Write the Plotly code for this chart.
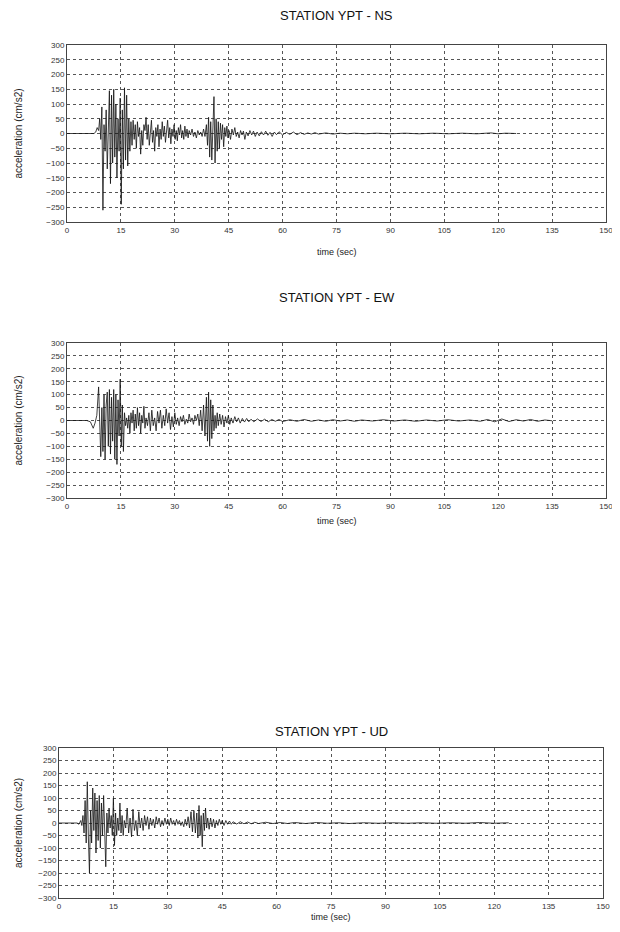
import plotly.graph_objects as go

# ---- data (time in s, acceleration in cm/s2) ----
ns_t = [0, 7.5, 8.0, 8.4, 8.8, 9.1, 9.4, 9.7, 10.0, 10.3, 10.6, 10.9, 11.2, 11.5, 11.8, 12.1, 12.4, 12.7,
        13.0, 13.3, 13.6, 13.9, 14.2, 14.5, 14.8, 15.1, 15.4, 15.7, 16.0, 16.3, 16.6, 16.9, 17.2, 17.5,
        17.8, 18.1, 18.4, 18.7, 19.0, 19.3, 19.6, 19.9, 20.2, 20.5, 20.8, 21.1, 21.4, 21.7, 22.0, 22.3,
        22.6, 22.9, 23.2, 23.5, 23.8, 24.1, 24.4, 24.7, 25.0, 25.3, 25.6, 25.9, 26.2, 26.5, 26.8, 27.1,
        27.4, 27.7, 28.0, 28.3, 28.6, 28.9, 29.2, 29.5, 29.8, 30.1, 30.4, 30.7, 31.0, 31.3, 31.6, 31.9,
        32.2, 32.5, 32.8, 33.1, 33.4, 33.7, 34.0, 34.4, 34.8, 35.2, 35.6, 36.0, 36.4, 36.8, 37.2, 37.6,
        38.0, 38.4, 38.8, 39.1, 39.4, 39.7, 40.0, 40.3, 40.6, 40.9, 41.2, 41.5, 41.8, 42.1, 42.4, 42.7,
        43.0, 43.3, 43.6, 43.9, 44.2, 44.5, 44.8, 45.1, 45.5, 45.9, 46.3, 46.7, 47.1, 47.5, 47.9, 48.3,
        48.7, 49.1, 49.5, 49.9, 50.4, 50.9, 51.4, 51.9, 52.4, 52.9, 53.5, 54.1, 54.7, 55.3, 55.9, 56.5,
        57.1, 57.7, 58.3, 59, 60, 61, 62, 63, 64, 65, 66, 67, 68, 69, 70, 72, 74, 76, 78, 80, 83, 86,
        90, 94, 98, 102, 106, 110, 114, 118, 120, 122, 125]
ns_a = [0, 0, 5, 20, 10, 50, -20, 90, -260, 30, -60, 80, -120, 60, 145, -170, 130, -100,
        150, -80, 100, -150, 50, -60, 120, -240, 80, -120, 155, -90, 130, -110, 50, -60,
        40, -40, 45, -20, 30, -50, 40, -10, 20, -70, 10, -40, 30, 10, 55, -20,
        30, -40, 20, 45, -30, 10, -60, 20, -10, 30, -45, 15, -20, 40, -10, 25,
        -30, 10, 45, -15, 20, -35, 15, -10, 30, -20, 10, -25, 20, -5, 30, -15,
        10, -20, 25, -10, 15, -15, 10, -5, 15, -10, 5, -15, 10, -5, 5, -10,
        15, -10, 30, -40, 55, -80, 40, -90, 60, 125, -100, 50, -60, 40, -50, 35,
        -20, 30, -45, 20, -10, 25, -15, 10, -20, 15, -5, 20, -10, 5, -15, 10,
        -5, 8, -20, 5, -8, 10, -5, 8, -10, 5, -8, 6, -5, 8, -6, 4,
        -10, 5, -4, 6, -5, 4, -3, 5, -4, 3, -3, 2, -2, 3, -2, 2, -2, 1, -1, 1, -1, 1,
        -1, 1, -1, 1, -1, 1, -1, 2, -1, 1, 0]

ew_t = [0, 5.5, 6.5, 7.3, 7.8, 8.3, 8.8, 9.1, 9.4, 9.7, 10.0, 10.3, 10.6, 10.9, 11.2, 11.5, 11.8,
        12.1, 12.4, 12.7, 13.0, 13.3, 13.6, 13.9, 14.2, 14.5, 14.8, 15.1, 15.4, 15.7, 16.0, 16.3,
        16.6, 16.9, 17.2, 17.5, 17.8, 18.1, 18.4, 18.7, 19.0, 19.3, 19.6, 19.9, 20.2, 20.5, 20.8,
        21.1, 21.4, 21.7, 22.0, 22.4, 22.8, 23.2, 23.6, 24.0, 24.4, 24.8, 25.2, 25.6, 26.0, 26.4,
        26.8, 27.2, 27.6, 28.0, 28.4, 28.8, 29.2, 29.6, 30.0, 30.4, 30.8, 31.2, 31.6, 32.0, 32.4,
        32.8, 33.2, 33.6, 34.0, 34.4, 34.8, 35.2, 35.6, 36.0, 36.4, 36.8, 37.2, 37.6, 38.0, 38.4,
        38.8, 39.1, 39.4, 39.7, 40.0, 40.3, 40.6, 40.9, 41.2, 41.5, 41.8, 42.1, 42.5, 42.9, 43.3,
        43.7, 44.1, 44.5, 44.9, 45.3, 45.7, 46.2, 46.7, 47.2, 47.7, 48.2, 48.8, 49.4, 50.0, 50.6,
        51.2, 52, 53, 54, 55, 56, 57, 58, 59, 60, 62, 64, 66, 68, 70, 72, 74, 76, 78, 80, 82, 85,
        88, 91, 94, 97, 100, 103, 106, 109, 112, 115, 117, 119, 121, 123, 125, 127, 129, 131, 133, 135]
ew_a = [0, 0, -5, -30, -10, 20, 130, -30, -140, 50, -120, 100, -150, 60, 110, -100, 120,
        -130, 90, -80, 120, -150, 100, -170, 80, -60, 160, -100, 60, -120, 30, -20,
        10, -30, 20, -50, 30, -10, 40, -40, 25, -30, 50, -20, 30, -50, 20,
        -10, 55, -30, 10, -20, 30, -40, 40, -20, 10, -40, 35, -10, 40, -30,
        20, -20, 45, -10, 30, -35, 15, -25, 30, -15, 10, -20, 15, -5, 20,
        -15, 5, -10, 25, -5, 10, -15, 20, 0, 25, -20, 40, -40, 60, -60,
        90, -80, 110, -100, 80, -70, 60, -40, 20, -30, 30, -20, 25, -15, 20,
        -25, 15, -10, 20, -15, 10, -10, 15, -5, 10, -10, 8, -6, 8, -5,
        5, -5, 6, -4, 5, -5, 4, -3, 4, -4, 3, -3, 4, -3, 2, -3, 3, -2, 2, -3, 2, -2,
        3, -2, 2, -3, 2, -2, 3, -2, 2, -3, 4, -5, 6, -4, 3, -2, 4, -3, 2, -1]

ud_t = [0, 5.0, 5.5, 6.0, 6.3, 6.6, 6.9, 7.2, 7.5, 7.8, 8.1, 8.4, 8.7, 9.0, 9.3, 9.6, 9.9, 10.2,
        10.5, 10.8, 11.1, 11.4, 11.7, 12.0, 12.3, 12.6, 12.9, 13.2, 13.5, 13.8, 14.1, 14.4, 14.7,
        15.0, 15.3, 15.6, 15.9, 16.2, 16.5, 16.8, 17.1, 17.4, 17.7, 18.0, 18.4, 18.8, 19.2, 19.6,
        20.0, 20.4, 20.8, 21.2, 21.6, 22.0, 22.4, 22.8, 23.2, 23.6, 24.0, 24.4, 24.8, 25.2, 25.6,
        26.0, 26.4, 26.8, 27.2, 27.6, 28.0, 28.4, 28.8, 29.2, 29.6, 30.0, 30.4, 30.8, 31.2, 31.6,
        32.0, 32.4, 32.8, 33.2, 33.6, 34.0, 34.4, 34.8, 35.2, 35.6, 36.0, 36.4, 36.8, 37.2, 37.6,
        38.0, 38.3, 38.6, 38.9, 39.2, 39.5, 39.8, 40.1, 40.4, 40.7, 41.0, 41.4, 41.8, 42.2, 42.6,
        43.0, 43.4, 43.8, 44.2, 44.6, 45.0, 45.5, 46.0, 46.5, 47.0, 47.5, 48.0, 49, 50, 51, 52,
        53, 54, 55, 57, 59, 61, 63, 65, 68, 71, 74, 77, 80, 84, 88, 92, 96, 100, 104, 108, 112,
        116, 120, 124]
ud_a = [0, 0, -5, 10, -10, 30, -40, 90, -80, 165, -60, -200, 50, -80, 140, -30, 120, -120,
        90, -70, 110, -100, 80, -50, 110, -80, -175, 40, -40, 60, -20, 30, -50,
        100, -90, 40, -50, 20, -30, 80, -40, 30, -50, 10, -20, 60, -40, 20,
        -55, 55, -30, 10, -50, 45, -20, 20, -30, 30, -10, 25, -25, 20, -10,
        15, -20, 25, -5, 20, -15, 10, -10, 20, -5, 15, -10, 20, -5, 10,
        -10, 15, -5, 10, -10, 5, -15, 15, -10, 25, -20, 45, -35, 50, -40,
        40, -60, 70, -50, 30, -95, 40, -30, 60, -20, 20, -25, 20, -15, 15,
        -20, 10, -10, 15, -5, 10, -10, 10, -5, 8, -5, 5, -4, 5, -3, 4,
        -3, 3, -2, 3, -2, 2, -2, 2, -2, 2, -1, 1, -2, 1, -1, 1, -1, 1, -1, 1, -1,
        2, -1, 1]

y_ticks = [300, 250, 200, 150, 100, 50, 0, -50, -100, -150, -200, -250, -300]
x_ticks = [0, 15, 30, 45, 60, 75, 90, 105, 120, 135, 150]

titles = ["STATION YPT - NS", "STATION YPT - EW", "STATION YPT - UD"]

# the page body adds 8px around the figure, so the figure is drawn 16px smaller
PAD = 8
W, H = 620 - 2 * PAD, 932 - 2 * PAD


def px(x):
    return (x - PAD) / W


def py(y):
    return 1 - (y - PAD) / H


# plot boxes in window pixels: left, right, top, bottom
boxes = [(67, 606, 45, 222), (67, 606, 343, 498), (59, 603, 748, 898)]
title_y = [15, 297, 731]
xtitle_y = [252, 521, 917]

fig = go.Figure()
series = [(ns_t, ns_a), (ew_t, ew_a), (ud_t, ud_a)]
for i, (t, a) in enumerate(series):
    n = "" if i == 0 else str(i + 1)
    fig.add_trace(go.Scatter(x=t, y=a, mode="lines", xaxis="x" + n, yaxis="y" + n,
                             line=dict(color="#111", width=0.8), showlegend=False))
    l, r, tp, bt = boxes[i]
    ax = dict(showgrid=True, gridcolor="#555", griddash="dot", gridwidth=1,
              showline=True, mirror=True, linecolor="#444", linewidth=1,
              zeroline=False, ticks="", tickfont=dict(family="Arial", size=8, color="#333"),
              automargin=False, ticklabeloverflow="allow")
    fig.layout["xaxis" + n] = dict(ax, domain=[px(l), px(r)], range=[0, 150], tickvals=x_ticks,
                                   anchor="y" + n)
    fig.layout["yaxis" + n] = dict(ax, domain=[py(bt), py(tp)], range=[-300, 300],
                                   tickvals=y_ticks, anchor="x" + n)
    fig.add_annotation(text=titles[i], x=px((l + r) / 2), y=py(title_y[i]), xref="paper",
                       yref="paper", showarrow=False, xanchor="center", yanchor="middle",
                       font=dict(family="Arial", size=13, color="#111"))
    fig.add_annotation(text="time (sec)", x=px((l + r) / 2), y=py(xtitle_y[i]), xref="paper",
                       yref="paper", showarrow=False, xanchor="center", yanchor="middle",
                       font=dict(family="Arial", size=9, color="#222"))
    fig.add_annotation(text="acceleration (cm/s2)", x=px(18), y=py((tp + bt) / 2),
                       xref="paper", yref="paper", showarrow=False, textangle=-90,
                       xanchor="center", yanchor="middle",
                       font=dict(family="Arial", size=10, color="#222"))

fig.update_layout(width=W, height=H, margin=dict(l=0, r=0, t=0, b=0),
                  plot_bgcolor="white", paper_bgcolor="white")
fig.write_html("out.html")
